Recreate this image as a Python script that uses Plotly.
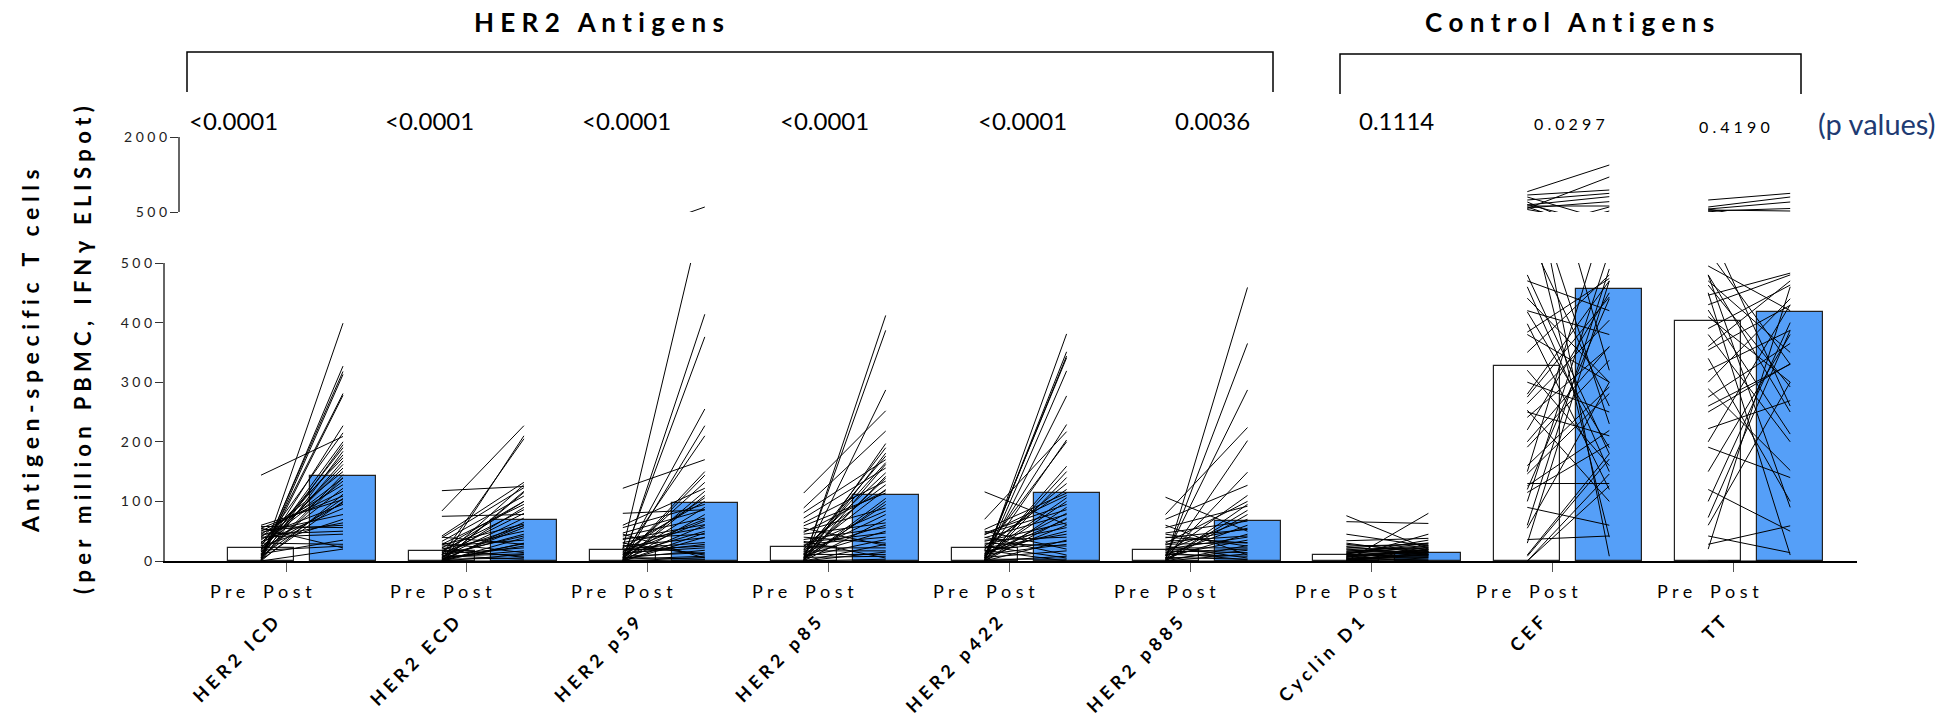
import plotly.graph_objects as go

# ---------------- data ----------------
categories = ["HER2 ICD", "HER2 ECD", "HER2 p59", "HER2 p85", "HER2 p422",
              "HER2 p885", "Cyclin D1", "CEF", "TT"]
pre_mean = [21, 16, 18, 23, 21, 18, 9.5, 328, 402]
post_mean = [143, 68, 98, 111, 114, 67, 13.5, 456, 418]
p_values = ["<0.0001", "<0.0001", "<0.0001", "<0.0001", "<0.0001", "0.0036",
            "0.1114", "0.0297", "0.4190"]

icd_pairs = [(144,209),(0,399),(2,327),(5,318),(0,313),(8,281),(3,278),(10,227),(25,215),(12,200),
             (5,195),(15,190),(0,184),(20,178),(30,173),(10,168),(18,162),(22,156),(40,150),(5,145),
             (35,139),(28,134),(45,128),(15,122),(50,117),(0,112),(55,109),(8,105),(60,103),(20,98),
             (42,95),(32,88),(48,78),(25,70),(38,64),(52,60),(58,56),(45,50),(40,45),(12,35),
             (30,28),(55,22),(0,20),(18,25),(2,100),(3,140)]
ecd_pairs = [(118,125),(84,227),(75,78),(0,210),(10,205),(42,132),(5,128),(39,123),(0,117),(33,109),
             (22,100),(28,95),(17,86),(11,80),(6,72),(0,65),(14,59),(3,56),(20,50),(8,45),
             (0,39),(25,35),(2,29),(12,22),(6,17),(0,11),(17,8),(22,6),(9,3),(0,0),
             (30,14),(4,25),(0,30),(11,42),(2,60),(6,90),(15,100),(0,115),(3,5),(8,12),(40,28),(27,62)]
p59_pairs = [(20,600),(0,414),(5,376),(122,170),(80,86),(2,255),(0,227),(10,210),(3,144),(8,132),
             (60,122),(0,117),(15,106),(56,95),(5,90),(47,86),(0,78),(42,72),(12,67),(36,61),
             (31,56),(0,47),(25,39),(20,31),(14,22),(8,14),(3,8),(0,6),(6,3),(30,10),
             (45,5),(18,25),(0,40),(10,50),(2,60),(22,100),(0,110),(5,18),(12,28),(38,45),
             (26,12),(0,2),(16,70),(4,150)]
p85_pairs = [(114,252),(0,412),(2,387),(5,287),(89,218),(0,197),(10,190),(3,181),(15,176),(81,170),
             (0,162),(72,156),(20,148),(8,139),(64,134),(25,128),(59,114),(0,100),(50,89),(12,78),
             (45,64),(36,56),(31,47),(0,28),(22,22),(17,17),(11,11),(6,8),(0,3),(40,30),
             (28,40),(5,95),(14,120),(3,142),(0,70),(19,60),(33,5),(9,50),(0,15),(25,84),
             (2,105),(12,165),(48,118),(7,36),(0,0),(55,26)]
p422_pairs = [(116,61),(0,381),(3,351),(5,344),(8,341),(0,319),(2,277),(12,229),(70,217),(6,203),
              (18,200),(0,159),(25,120),(53,114),(10,106),(47,95),(45,86),(39,78),(0,72),(33,64),
              (28,56),(22,45),(17,33),(11,28),(6,17),(0,8),(3,3),(40,10),(30,25),(15,50),
              (0,90),(20,130),(8,100),(2,150),(35,40),(12,70),(50,20),(25,5),(0,35),(5,60),
              (44,110),(18,0),(9,80),(0,140)]
p885_pairs = [(107,50),(0,459),(3,365),(8,287),(78,224),(0,202),(5,149),(70,127),(12,110),(56,92),
              (0,78),(47,67),(39,53),(33,42),(28,31),(22,22),(17,14),(11,8),(6,3),(0,0),
              (20,40),(10,60),(2,85),(30,100),(15,20),(0,12),(25,5),(40,30),(5,45),(60,10),
              (45,25),(0,95),(18,70),(9,35),(3,18),(28,55),(14,2),(0,26)]
cyclin_pairs = [(76,20),(66,63),(0,80),(45,25),(34,38),(25,28),(20,22),(14,17),(8,11),(3,6),
                (0,20),(30,12),(22,30),(18,15),(12,25),(10,8),(6,18),(4,10),(2,14),(0,5),
                (15,22),(28,16),(9,20),(5,9),(1,3),(0,12),(12,35),(7,16),(3,23),(20,10),
                (16,26),(11,14),(0,0),(4,7),(8,19),(24,11),(13,30),(2,1),(6,45),(0,15)]
cef_pairs = [(907,1440),(573,1200),(840,940),(740,873),(640,807),(580,707),(620,620),
             (460,150),(441,300),(418,190),(398,120),(384,474),(275,443),(264,404),(253,100),
             (241,359),(191,337),(160,292),(146,281),(126,219),(115,196),(36,42),(8,171),(0,146),
             (0,126),(700,8),(650,230),(800,320),(600,40),(550,260),(30,470),(60,490),(100,520),
             (150,600),(350,480),(300,250),(420,380),(480,180),(220,450),(130,130),(90,60),
             (470,420),(380,300),(320,160),(200,360),(120,440),(250,210),(55,300),(10,180),(280,470)]
tt_pairs = [(740,873),(600,800),(560,700),(520,570),(540,520),
            (463,292),(446,483),(421,213),(390,463),(354,429),(320,387),(289,152),(275,365),
            (250,331),(222,269),(191,140),(73,387),(42,14),(28,59),(0,0),(480,250),(495,420),
            (470,350),(430,480),(410,300),(380,200),(360,470),(340,100),(300,440),(260,330),
            (200,430),(150,380),(120,50),(100,400),(60,300),(480,90),(450,10),(20,460),
            (520,330),(560,260)]
all_pairs = [icd_pairs, ecd_pairs, p59_pairs, p85_pairs, p422_pairs, p885_pairs,
             cyclin_pairs, cef_pairs, tt_pairs]

# ---------------- geometry ----------------
W, H = 1952, 724
L, R, T, B = 165, 1857, 137, 561
def pxx(px):
    return (px - L) / (R - L)
def pxy(py):
    return (B - py) / (B - T)

STEP = 180.9
X0 = 286
xr = [(L - X0) / STEP, (R - X0) / STEP]
PRE_OFF = -25 / STEP
POST_OFF = 57 / STEP
BAR_W = 66 / STEP
BLUE = "#559FF8"
NB = "\u00a0"

def spaced(s, sep=NB):
    return sep.join(list(s))

n = len(categories)
fig = go.Figure()

fig.add_trace(go.Bar(x=[i + PRE_OFF for i in range(n)], y=pre_mean, width=BAR_W,
                     marker=dict(color="white", line=dict(color="#222", width=1.2)),
                     xaxis="x", yaxis="y", showlegend=False, hoverinfo="skip"))
fig.add_trace(go.Bar(x=[i + POST_OFF for i in range(n)], y=post_mean, width=BAR_W,
                     marker=dict(color=BLUE, line=dict(color="#222", width=1.2)),
                     xaxis="x", yaxis="y", showlegend=False, hoverinfo="skip"))

lx, ly = [], []
for i, pairs in enumerate(all_pairs):
    for a, b in pairs:
        lx += [i + PRE_OFF, i + POST_OFF, None]
        ly += [a, b, None]
for yax in ["y", "y2"]:
    fig.add_trace(go.Scatter(x=lx, y=ly, mode="lines", line=dict(color="black", width=1),
                             xaxis="x", yaxis=yax, showlegend=False, hoverinfo="skip"))

tickfont = dict(family="Lato", size=14, color="#222")
fig.update_layout(
    width=W, height=H, paper_bgcolor="white", plot_bgcolor="white",
    margin=dict(l=L, r=W - R, t=T, b=H - B, pad=0, autoexpand=False),
    barmode="overlay", bargap=0,
    xaxis=dict(range=xr, anchor="y", showgrid=False, zeroline=False, showline=True,
               linecolor="black", linewidth=1.5, ticks="outside", ticklen=9, tickwidth=1,
               tickcolor="#555", tickvals=list(range(n)),
               ticktext=[spaced(c) + NB * 4 for c in categories], tickangle=-45,
               tickfont=dict(family="Lato", size=18, color="black", weight="bold"),
               ticklabelstandoff=21, automargin=False),
    yaxis=dict(domain=[0, pxy(263)], range=[0, 500], anchor="x", showgrid=False,
               zeroline=False, showline=True, linecolor="#666", linewidth=2,
               ticks="outside", ticklen=8, tickcolor="#333", tickvals=[0, 100, 200, 300, 400, 500],
               ticktext=[spaced(str(v)) for v in [0, 100, 200, 300, 400, 500]],
               tickfont=tickfont, automargin=False),
    yaxis2=dict(domain=[pxy(212), 1], range=[500, 2000], anchor="free", position=pxx(179),
                showgrid=False, zeroline=False, showline=True, linecolor="#666", linewidth=2,
                ticks="outside", ticklen=8, tickcolor="#333", tickvals=[500, 2000],
                ticktext=[spaced("500"), spaced("2000")], tickfont=tickfont, automargin=False),
)

def words(s, sep=NB):
    return (sep + " " + sep).join(spaced(w, sep) for w in s.split(" "))

ann = []
# group titles
for title, cx in [("HER2 Antigens", 599), ("Control Antigens", 1569)]:
    ann.append(dict(text=words(title), x=pxx(cx), y=pxy(22), xref="paper", yref="paper",
                    xanchor="center", yanchor="middle", showarrow=False,
                    font=dict(family="Lato", size=26, color="black", weight="bold")))
# p values
p_left = [187, 383, 580, 778, 976, 1173, 1357, 1532, 1697]
p_yc = [120, 120, 120, 120, 120, 120, 120, 123, 126]
for k, p in enumerate(p_values):
    small = k >= 7
    ann.append(dict(text=spaced(p) if small else p, x=pxx(p_left[k]), y=pxy(p_yc[k]),
                    xref="paper", yref="paper", xanchor="left", yanchor="middle", showarrow=False,
                    font=dict(family="Lato", size=16 if small else 24, color="black")))
ann.append(dict(text="(p values)", x=pxx(1816), y=pxy(124), xref="paper", yref="paper",
                xanchor="left", yanchor="middle", showarrow=False,
                font=dict(family="Lato", size=29, color="#203A72")))
# Pre / Post labels
for i in range(n):
    ann.append(dict(text=spaced("Pre"), x=i - 59 / STEP, y=pxy(591), xref="x", yref="paper",
                    xanchor="center", yanchor="middle",
                    showarrow=False, font=dict(family="Lato", size=18, color="black")))
    ann.append(dict(text=spaced("Post"), x=i + 1 / STEP, y=pxy(591), xref="x", yref="paper",
                    xanchor="center", yanchor="middle",
                    showarrow=False, font=dict(family="Lato", size=18, color="black")))
# y axis title
ann.append(dict(text=words("Antigen-specific T cells"),
                x=pxx(30), y=pxy(351), xref="paper", yref="paper", textangle=-90, showarrow=False,
                xanchor="center", yanchor="middle",
                font=dict(family="Lato", size=23, color="black", weight="bold")))
ann.append(dict(text=words("(per million PBMC, IFNγ ELISpot)"),
                x=pxx(82), y=pxy(350), xref="paper", yref="paper", textangle=-90, showarrow=False,
                xanchor="center", yanchor="middle",
                font=dict(family="Lato", size=22, color="black", weight="bold")))
fig.update_layout(annotations=ann)

# brackets
shapes = []
for (x1, x2, yt, yb) in [(187, 1273, 52, 92), (1340, 1801, 54, 94)]:
    shapes.append(dict(type="path", xref="paper", yref="paper",
                       path=f"M {pxx(x1)},{pxy(yb)} L {pxx(x1)},{pxy(yt)} L {pxx(x2)},{pxy(yt)} L {pxx(x2)},{pxy(yb)}",
                       line=dict(color="black", width=1.5)))
fig.update_layout(shapes=shapes)

fig.write_html("out.html", config={"displayModeBar": False},
               post_script="document.body.style.margin='0px';document.body.style.padding='0px';")
